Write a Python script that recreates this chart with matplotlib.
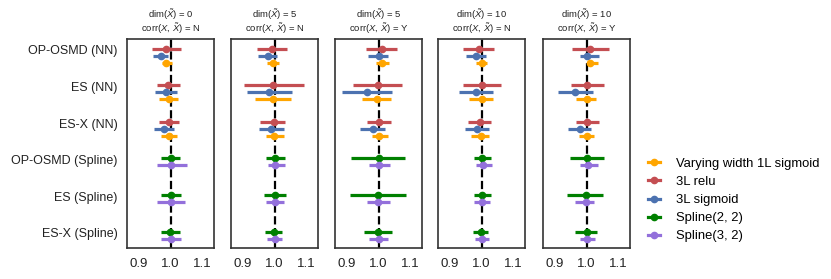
import matplotlib
matplotlib.use("Agg")
import matplotlib.pyplot as plt
from matplotlib.lines import Line2D
import numpy as np

plt.rcParams['font.family'] = ['Liberation Sans', 'DejaVu Sans']
plt.rcParams['mathtext.fontset'] = 'custom'
plt.rcParams['mathtext.rm'] = 'Liberation Sans'
plt.rcParams['mathtext.it'] = 'Liberation Sans:italic'
plt.rcParams['mathtext.bf'] = 'Liberation Sans:bold'

# ---------------- data ----------------
categories = ["OP-OSMD (NN)", "ES (NN)", "ES-X (NN)",
              "OP-OSMD (Spline)", "ES (Spline)", "ES-X (Spline)"]
dims = [0, 5, 5, 10, 10]
corrs = ["N", "N", "Y", "N", "Y"]
xticks = [0.9, 1.0, 1.1]
xtick_labels = ["0.9", "1.0", "1.1"]

series_names = ["Varying width 1L sigmoid", "3L relu", "3L sigmoid",
                "Spline(2, 2)", "Spline(3, 2)"]
series_colors = ["orange", "#C44E52", "#4C72B0", "green", "mediumpurple"]

# per panel: rows = groups; columns = (mean, low, high)
# NN series -> groups 0..2, spline series -> groups 3..5
relu = [
    [[0.985, 0.940, 1.033], [0.993, 0.956, 1.030], [0.996, 0.962, 1.026]],
    [[0.992, 0.944, 1.039], [0.995, 0.902, 1.094], [0.997, 0.955, 1.034]],
    [[1.010, 0.960, 1.060], [0.999, 0.920, 1.076], [1.002, 0.962, 1.041]],
    [[0.992, 0.942, 1.039], [1.003, 0.942, 1.063], [0.995, 0.958, 1.030]],
    [[1.011, 0.955, 1.071], [1.002, 0.952, 1.055], [1.002, 0.968, 1.039]],
]
sigmoid3 = [
    [[0.969, 0.945, 0.993], [0.987, 0.950, 1.022], [0.979, 0.948, 1.011]],
    [[0.979, 0.949, 1.007], [0.984, 0.912, 1.055], [0.989, 0.951, 1.029]],
    [[1.000, 0.967, 1.031], [0.962, 0.883, 1.043], [0.983, 0.941, 1.022]],
    [[0.982, 0.950, 1.013], [0.982, 0.929, 1.035], [0.986, 0.947, 1.023]],
    [[1.002, 0.978, 1.041], [0.965, 0.910, 1.021], [0.979, 0.941, 1.015]],
]
sigmoid1 = [
    [[0.986, 0.974, 1.006], [0.996, 0.964, 1.024], [0.995, 0.969, 1.020]],
    [[0.995, 0.976, 1.015], [0.995, 0.939, 1.053], [0.999, 0.972, 1.029]],
    [[1.011, 0.992, 1.033], [0.994, 0.949, 1.039], [1.002, 0.978, 1.031]],
    [[1.000, 0.981, 1.019], [1.000, 0.961, 1.037], [0.997, 0.968, 1.023]],
    [[1.011, 1.000, 1.037], [1.000, 0.968, 1.029], [1.002, 0.976, 1.023]],
]
spline22 = [
    [[1.000, 0.971, 1.031], [1.000, 0.969, 1.033], [0.999, 0.971, 1.029]],
    [[1.000, 0.972, 1.034], [1.000, 0.967, 1.036], [0.998, 0.970, 1.025]],
    [[1.000, 0.914, 1.085], [0.998, 0.910, 1.088], [0.998, 0.953, 1.043]],
    [[1.003, 0.977, 1.030], [1.000, 0.977, 1.029], [0.998, 0.974, 1.021]],
    [[1.000, 0.947, 1.057], [0.997, 0.939, 1.052], [1.000, 0.965, 1.034]],
]
spline32 = [
    [[1.002, 0.957, 1.051], [1.000, 0.957, 1.047], [1.001, 0.971, 1.034]],
    [[1.002, 0.978, 1.032], [1.000, 0.974, 1.031], [1.000, 0.975, 1.025]],
    [[1.003, 0.971, 1.037], [0.998, 0.963, 1.035], [1.000, 0.971, 1.029]],
    [[1.005, 0.984, 1.032], [1.000, 0.977, 1.026], [1.000, 0.979, 1.024]],
    [[1.005, 0.979, 1.036], [0.997, 0.965, 1.025], [1.002, 0.978, 1.026]],
]

# drawing order (top to bottom within group)
nn_series = [(relu, "#C44E52"), (sigmoid3, "#4C72B0"), (sigmoid1, "orange")]
sp_series = [(spline22, "green"), (spline32, "mediumpurple")]
row_offsets = [-0.04, 0.155, 0.35]

# ---------------- figure ----------------
W, H = 831, 279
fig = plt.figure(figsize=(W / 100, H / 100), dpi=100)

lefts = [127, 231, 335, 438, 543]
aw = 87
top, bottom = 39, 248

for p in range(5):
    ax = fig.add_axes([lefts[p] / W, 1 - bottom / H, aw / W, (bottom - top) / H])
    ax.axvline(1.0, color='black', lw=1.6, ls='--', zorder=1)
    for s, (data, col) in enumerate(nn_series):
        arr = np.array(data[p])
        for g in range(3):
            y = g + row_offsets[s]
            m, lo, hi = arr[g]
            ax.plot([lo, hi], [y, y], color=col, lw=2.3, solid_capstyle='butt', zorder=2)
            ax.plot([m], [y], marker='o', ms=4.5, color=col, mec=col, zorder=3)
    for s, (data, col) in enumerate(sp_series):
        arr = np.array(data[p])
        for g in range(3):
            y = 3 + g + row_offsets[s]
            m, lo, hi = arr[g]
            ax.plot([lo, hi], [y, y], color=col, lw=2.3, solid_capstyle='butt', zorder=2)
            ax.plot([m], [y], marker='o', ms=4.5, color=col, mec=col, zorder=3)
    ax.set_xlim(0.862, 1.138)
    ax.set_ylim(5.41, -0.30)
    ax.set_xticks(xticks)
    ax.set_xticklabels(xtick_labels, fontsize=9.5)
    ax.set_yticks(range(len(categories)))
    if p == 0:
        ax.set_yticklabels(categories, fontsize=9.0)
    else:
        ax.set_yticklabels([])
    ax.tick_params(axis='both', length=0, pad=7, colors='#222222')
    for sp in ax.spines.values():
        sp.set_color('#333333')
        sp.set_linewidth(1.2)
    cx = (lefts[p] + aw / 2) / W
    fig.text(cx, 1 - 15 / H, "dim($\\tilde{X}$) = %d" % dims[p],
             ha='center', va='center', fontsize=6.8, color='#222222')
    fig.text(cx, 1 - 28.5 / H, "corr($X$, $\\tilde{X}$) = %s" % corrs[p],
             ha='center', va='center', fontsize=6.8, color='#222222')

handles = [Line2D([0], [0], color=c, lw=2.3, marker='o', ms=4.5) for c in series_colors]
fig.legend(handles, series_names, loc='center left', bbox_to_anchor=(636 / W, 1 - 200 / H),
           frameon=False, fontsize=9.4, handlelength=0.9, handletextpad=1.3, labelspacing=0.45)

fig.savefig("out.png", dpi=100)
